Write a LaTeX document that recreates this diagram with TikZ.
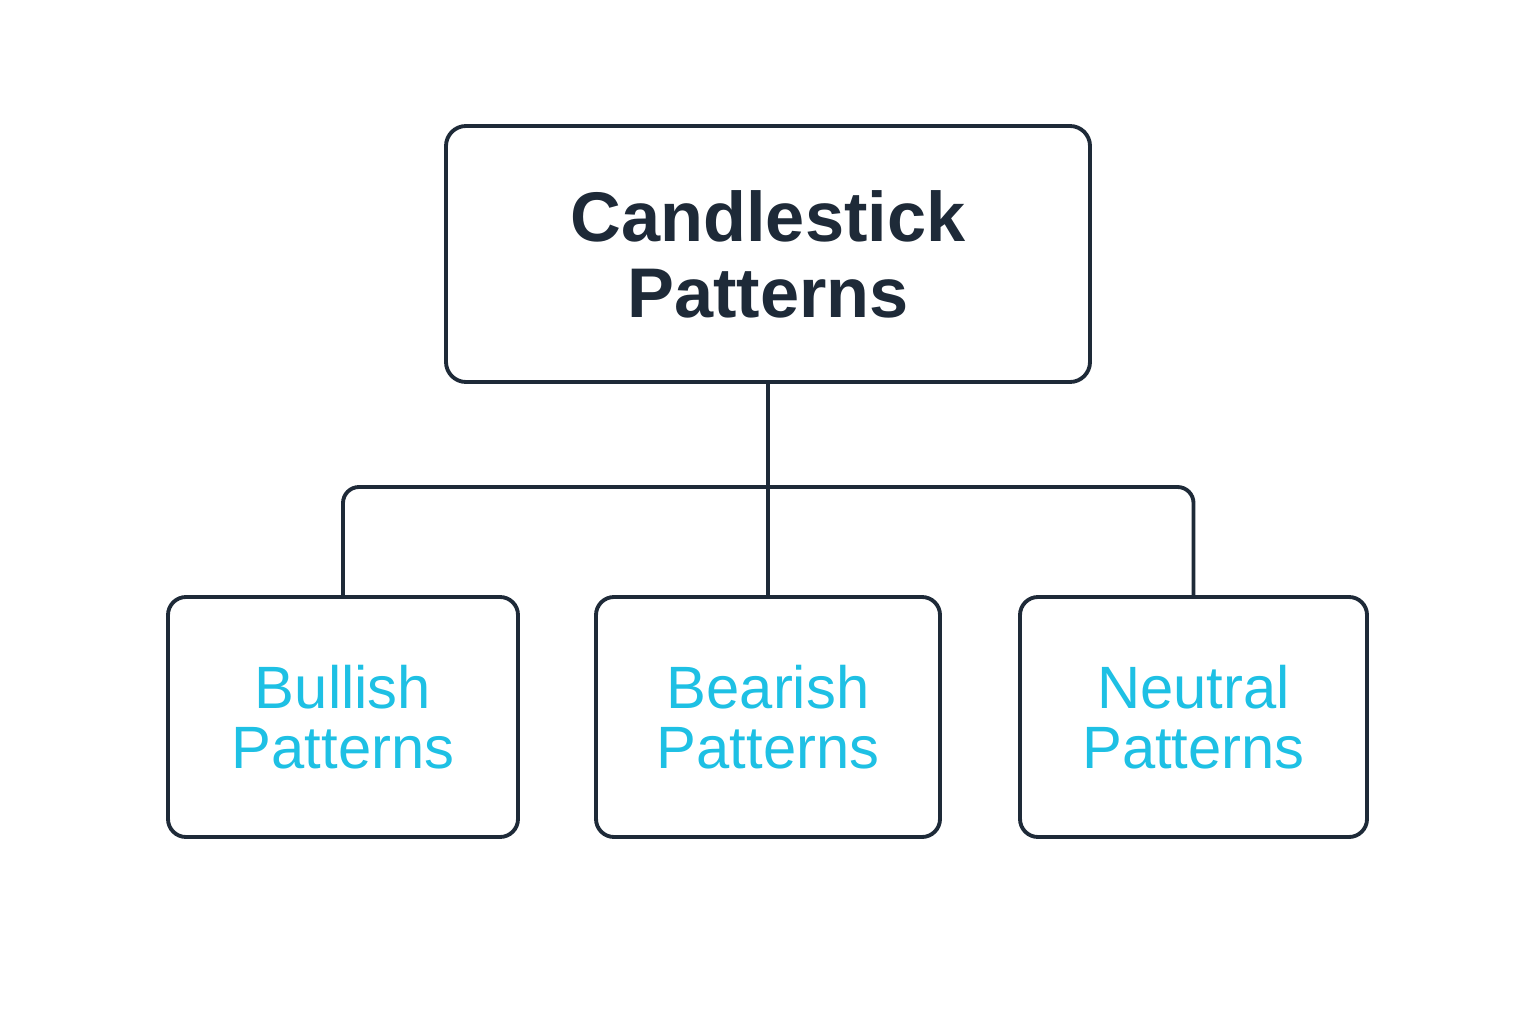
\documentclass[tikz,border=0pt]{standalone}
\usepackage{fontspec}
\setmainfont{Liberation Sans}
\definecolor{inkdark}{HTML}{1E2A38}
\definecolor{inkcyan}{HTML}{1EC0E4}
\tikzset{
    rootbox/.style={draw=inkdark, line width=1.1pt, rounded corners=0.2cm, minimum width=6.44cm, minimum height=2.56cm, align=center, text=inkdark, font=\fontsize{20}{21.6}\selectfont\bfseries},
    kindbox/.style={draw=inkdark, line width=1.1pt, rounded corners=0.18cm, minimum height=2.4cm, align=center, text=inkcyan, font=\fontsize{17}{17}\selectfont},
    link/.style={draw=inkdark, line width=1.1pt, rounded corners=0.16cm}
}
\begin{document}
\begin{tikzpicture}[inner sep=2pt]
    \useasboundingbox (0,0) rectangle (15.36,10.24);
    \node[rootbox] (root) at (7.68,7.70) {Candlestick\\Patterns};
    \node[kindbox, minimum width=3.50cm] (bull) at (3.43,3.07) {Bullish\\Patterns};
    \node[kindbox, minimum width=3.44cm] (bear) at (7.68,3.07) {Bearish\\Patterns};
    \node[kindbox, minimum width=3.47cm] (neut) at (11.935,3.07) {Neutral\\Patterns};
    \coordinate (bar) at (7.68,5.37);

    \path[link] (root.south) -- (bear.north);
    \path[link] (bull.north) |- (bar) -| (neut.north);
\end{tikzpicture}
\end{document}
